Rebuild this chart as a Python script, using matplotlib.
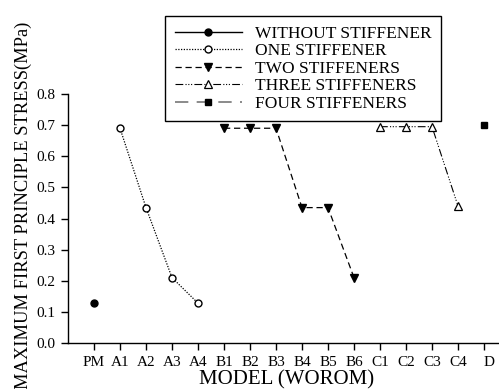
import matplotlib
matplotlib.use("Agg")
import matplotlib.pyplot as plt

plt.rcParams['font.family'] = ['Liberation Serif', 'DejaVu Serif']

model_labels = ["PM", "A1", "A2", "A3", "A4", "B1", "B2", "B3", "B4", "B5", "B6",
                "C1", "C2", "C3", "C4", "D"]

pm_x = [1]
pm_stress = [0.127]

one_x = [2, 3, 4, 5]
one_stress = [0.69, 0.435, 0.21, 0.128]

two_x = [6, 7, 8, 9, 10, 11]
two_stress = [0.69, 0.69, 0.69, 0.435, 0.435, 0.21]

three_x = [12, 13, 14, 15]
three_stress = [0.695, 0.695, 0.695, 0.44]

four_x = [16]
four_stress = [0.70]

fig = plt.figure(figsize=(4.99, 3.89), dpi=100)
ax = fig.add_axes([68 / 499, 46 / 389, 442 / 499, 249 / 389])

ax.plot(pm_x, pm_stress, color='black', lw=1.0, marker='o', ms=5,
        mfc='black', mec='black', label='WITHOUT STIFFENER')
ax.plot(one_x, one_stress, color='black', lw=0.9, ls=(0, (1, 1.2)), marker='o', ms=5,
        mfc='white', mec='black', mew=1.0, label='ONE STIFFENER')
ax.plot(two_x, two_stress, color='black', lw=0.9, ls=(0, (5, 3)), marker='v', ms=5.5,
        mfc='black', mec='black', label='TWO STIFFENERS')
ax.plot(three_x, three_stress, color='black', lw=0.8, ls=(0, (7, 2, 1, 1.5, 1, 1.5, 1, 2)),
        marker='^', ms=5.5, mfc='white', mec='black', mew=0.9, label='THREE STIFFENERS')
ax.plot(four_x, four_stress, color='#777777', lw=1.2, ls=(0, (8, 5)), marker='s', ms=4.5,
        mfc='black', mec='black', label='FOUR STIFFENERS')

ax.set_xlim(0, 17)
ax.set_ylim(0, 0.8)
ax.set_xticks(range(1, 17))
ax.set_xticklabels(model_labels)
ax.set_yticks([0.0, 0.1, 0.2, 0.3, 0.4, 0.5, 0.6, 0.7, 0.8])
ax.set_yticklabels(["0.0", "0.1", "0.2", "0.3", "0.4", "0.5", "0.6", "0.7", "0.8"])
ax.tick_params(axis='both', direction='out', length=5, width=1.0, labelsize=11, pad=4)
ax.get_xticklabels()[-1].set_horizontalalignment('left')

for side in ['top', 'right']:
    ax.spines[side].set_visible(False)
for side in ['left', 'bottom']:
    ax.spines[side].set_linewidth(1.0)

leg = ax.legend(loc='upper left', bbox_to_anchor=(165 / 499, 1 - 16 / 389),
                bbox_transform=fig.transFigure, fontsize=12.5, frameon=True,
                fancybox=False, edgecolor='black', framealpha=1, handlelength=3.9,
                handletextpad=0.75, labelspacing=0.08, borderpad=0.55, borderaxespad=0)
leg.get_frame().set_linewidth(1.0)

fig.text(287 / 499, 0.0, "MODEL (WOROM)", fontsize=15, ha='center', va='bottom')
fig.text(23 / 499, 1 - 205 / 389, "MAXIMUM FIRST PRINCIPLE STRESS(MPa)", fontsize=13.3,
         rotation=90, ha='center', va='center')

fig.savefig("out.png", dpi=100)
